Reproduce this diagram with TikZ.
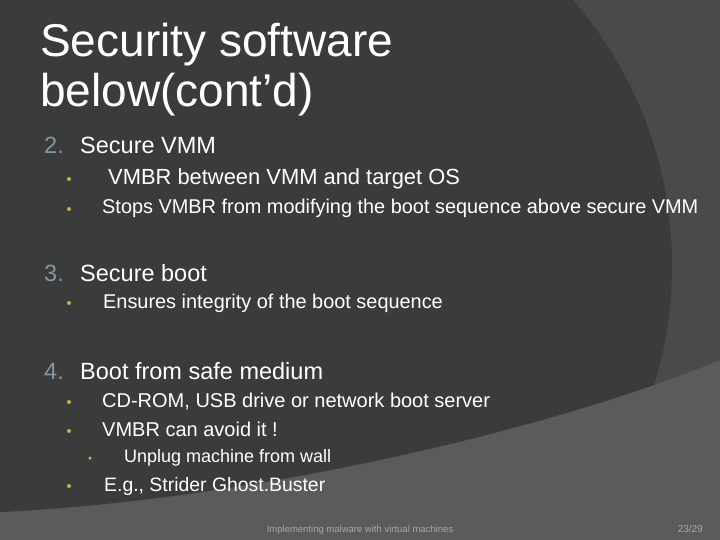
\documentclass[tikz,border=0pt]{standalone}
\usepackage{fontspec}
\setmainfont{Liberation Sans}
\definecolor{bgl}{HTML}{5B5B5B}
\definecolor{bgm}{HTML}{4A4A4A}
\definecolor{bgd}{HTML}{3B3B3B}
\definecolor{numc}{HTML}{7F9AA6}
\definecolor{bul}{HTML}{C8B040}
\definecolor{foot}{HTML}{A8A8A8}
\begin{document}
\begin{tikzpicture}[x=1pt,y=-1pt,
  txt/.style={anchor=base west,inner sep=0pt,text=white},
  bdot/.style={circle,fill=bul,inner sep=0pt,minimum size=4pt}]
\useasboundingbox (0,0) rectangle (720,540);
\fill[bgl] (0,0) rectangle (720,540);
\fill[bgm] (0,0) -- (720,0) -- (720,360) .. controls (550,430) and (250,500) .. (0,512) -- cycle;
\begin{scope}
\clip (0,0) -- (720,0) -- (720,360) .. controls (550,430) and (250,500) .. (0,512) -- cycle;
\fill[bgd] (268,265) circle (404);
\end{scope}
\node[txt,font=\fontsize{46}{50}\selectfont] (t1) at (40,57) {Security software};
\node[txt,font=\fontsize{46}{50}\selectfont] (t2) at (40,107) {below(cont’d)};
% level 1
\node[txt,text=numc,font=\fontsize{23.5}{24}\selectfont] (n2) at (44,154) {2.};
\node[txt,font=\fontsize{23.5}{24}\selectfont] (h2) at (80,154) {Secure VMM};
\node[txt,text=numc,font=\fontsize{23.5}{24}\selectfont] (n3) at (44,281) {3.};
\node[txt,font=\fontsize{23.5}{24}\selectfont] (h3) at (80,281) {Secure boot};
\node[txt,text=numc,font=\fontsize{23.5}{24}\selectfont] (n4) at (44,379) {4.};
\node[txt,font=\fontsize{23.5}{24}\selectfont] (h4) at (80,379) {Boot from safe medium};
% bullets
\node[bdot] (b1) at (69,179) {};
\node[txt,font=\fontsize{21.9}{24}\selectfont] (s1) at (108,185) {VMBR between VMM and target OS};
\node[bdot] (b2) at (69,209) {};
\node[txt,font=\fontsize{19.9}{22}\selectfont] (s2) at (102,214) {Stops VMBR from modifying the boot sequence above secure VMM};
\node[bdot] (b3) at (69,303) {};
\node[txt,font=\fontsize{19.9}{22}\selectfont] (s3) at (103,308) {Ensures integrity of the boot sequence};
\node[bdot] (b4) at (69,402) {};
\node[txt,font=\fontsize{20}{22}\selectfont] (s4) at (102,407) {CD-ROM, USB drive or network boot server};
\node[bdot] (b5) at (69,431) {};
\node[txt,font=\fontsize{20}{22}\selectfont] (s5) at (102,436) {VMBR can avoid it !};
\node[bdot,minimum size=3.5pt] (b6) at (90,458) {};
\node[txt,font=\fontsize{18}{20}\selectfont] (s6) at (124,462) {Unplug machine from wall};
\node[bdot] (b7) at (69,486) {};
\node[txt,font=\fontsize{19.4}{22}\selectfont] (s7) at (104,491) {E.g., Strider Ghost.Buster};
% footer
\node[anchor=base,inner sep=0pt,text=foot,font=\fontsize{9.5}{11}\selectfont] (f1) at (360,532) {Implementing malware with virtual machines};
\node[anchor=base east,inner sep=0pt,text=foot,font=\fontsize{10}{11}\selectfont] (f2) at (703,532) {23/29};
\end{tikzpicture}
\end{document}
